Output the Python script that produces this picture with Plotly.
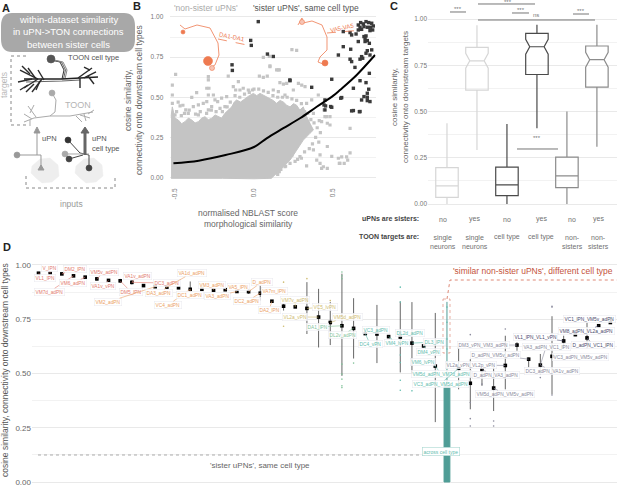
#! /usr/bin/env python3

import plotly.graph_objects as go

W, H = 617, 487
FONT = "Liberation Sans"
GREY_TXT = "#707070"
ORANGE = "#ee7a50"

# panel B: solid part of the grey cloud, outline
cloud_x = [-.525, -.517, -.50, -.479, -.458, -.437, -.415, -.394, -.373, -.352, -.331, -.31, -.289, -.268, -.247,
           -.226, -.205, -.184, -.163, -.141, -.125, -.11, -.085, -.057, -.03, -.004, .017, .038, .059, .08, .101,
           .122, .143, .165, .186, .207, .228, .25, .27, .29, .312, .333, .354, .376,
           .354, .312, .27, .228, .186, .143, .11, .0, -.2, -.525]
cloud_y = [.38, .44, .37, .358, .335, .348, .37, .358, .34, .348, .37, .379, .36, .369, .39,
           .379, .37, .40, .42, .44, .47, .483, .47, .493, .51, .524, .51, .524, .514, .50, .493,
           .48, .462, .48, .47, .45, .44, .46, .45, .42, .44, .38, .338, .296,
           .275, .233, .17, .108, .067, .026, -.005, -.008, -.005, -.005]

grey_x = [-.496, -.517, -.517, -.517, -.289, -.289, -.163, -.099, -.299, -.285, -.363, -.394, -.289, -.257,
          -.299, -.247, -.23, -.205, -.173, -.131, -.116, -.089, -.068, -.036, -.01, -.468, -.432, -.384,
          -.352, -.321, -.268, -.184, -.5, -.416, -.352, -.289, -.215,
          .101, .143, .16, .034, .059, .084, .164, .186, .207, .281, .302, .323, .249, .122, .154, .196,
          .333, .365, .376, .407, .428, .413, .46, .481, .464, .443, .481, .464, .492, .534, .544, .418,
          .397, .418, .439, .464, .333, .428, .276, .228, .196, .16, .376, .291,
          .555, .586, .608, .54, .571, .593, .608, .449, .24, .27, .059, .097, .101, .153,
          -.49, -.46, -.44, -.41, -.37, -.34, -.30, -.27, -.24, -.20, -.17, -.15, -.12, -.09, -.06, -.03, .0, .03,
          .06, .09, .12, .15, .18, .21, .24, .27, .30, .32, .34, .36, .38, .40, .42, .39, .41, .37, .35, .32, .30,
          .26, .24, .20, .17, .15, -.48, -.45]
grey_y = [.643, .576, .514, .462, .628, .608, .632, .597, .556, .556, .529, .499, .514, .514,
          .473, .483, .473, .494, .504, .566, .545, .545, .556, .545, .545, .446, .421, .442,
          .452, .462, .442, .442, .39, .4, .39, .421, .431,
          .69, .67, .67, .632, .624, .632, .591, .582, .586, .586, .576, .566, .545, .545, .535, .514,
          .462, .483, .4, .514, .348, .354, .379, .379, .338, .421, .327, .193, .131, .12, .088, .141,
          .108, .088, .067, .057, .072, .057, .113, .088, .067, .036, .172, .13,
          .129, .129, .154, .088, .088, .108, .306, .379, .796, .792, .748, .754, .696, .671,
          .41, .385, .40, .42, .395, .41, .40, .42, .41, .41, .44, .47, .51, .50, .52, .53, .55, .55,
          .54, .53, .51, .50, .50, .50, .49, .48, .46, .41, .40, .36, .34, .31, .28, .25, .22, .21, .18, .16, .12,
          .10, .14, .07, .05, .02, .47, .45]

dark_x = [.66, .675, .692, .709, .726, .745, .755, .671, .696, .717, .738, .751, .66, .681, .734, .703, .717,
          .73, .703, .696, .709, .565, .608, .618, .646, .66, .565, .612, .534, .745, .717, .709, .734, .681,
          .671, .688, .608, .618, .639, .73, .492, .365, .671, .629, .709, .726, .717, .717, .696, .681, .734,
          .717, .555, .449, .443, .485, .449, .629, .671, .228,
          .027, -.021, -.017, .085, .122, -.139, -.137, .227, .453, .492, .549, .618, .667]
dark_y = [.95, .965, .957, .971, .965, .961, .944, .936, .94, .936, .936, .919, .919, .923, .915, .867, .853,
          .836, .847, .878, .882, .909, .903, .888, .894, .847, .815, .799, .763, .795, .79, .774, .763, .753,
          .737, .743, .737, .722, .686, .649, .612, .562, .603, .556, .591, .55, .525, .5, .504, .483, .473,
          .479, .498, .483, .452, .442, .421, .417, .411, .603,
          .971, .854, .823, .769, .754, .702, .667, .608, .446, .4375, .494, .415, .41]

fit_x = [-.51, -.35, -.18, 0, .08, .186, .291, .397, .502, .544, .65, .766]
fit_y = [.088, .105, .14, .19, .244, .307, .369, .441, .51, .545, .639, .763]

# panel C: box statistics
c_pos = [1, 2, 3, 4, 5, 6]
c_q1 = [.036, .616, .045, .70, .088, .632]
c_median = [.0975, .774, .103, .85, .152, .78]
c_q3 = [.197, .847, .199, .922, .253, .854]
c_low = [0, .292, 0, .41, 0, .31]
c_high = [.437, .966, .433, .969, .50, .969]
c_notch = [.012, .04, .012, .04, .012, .04]
c_colors = ["#d6d6d6", "#d6d6d6", "#4a4a4a", "#4a4a4a", "#8c8c8c", "#8c8c8c"]
c_sisters = ["no", "yes", "no", "yes", "no", "yes"]
c_targets = ["single<br>neurons", "single<br>neurons", "cell type", "cell type", "non-<br>sisters", "non-<br>sisters"]

# panel D: one median per group, whiskers where they show
d_index = list(range(50))
d_median = [.962, .962, .959, .95, .944, .936, .929, .927, .92, .905, .90, .898, .895, .888, .888,
            .884, .886, .878, .877, .87, .833, .81, .807, .80, .76, .735, .72, .708, .684, .682,
            .67, .668, .64, .627, .534, None, .523, .455, .517, .433, .537, .631, .566, .539, .579,
            .65, .679, .664, .72, .735]
d_low = [.962, .962, .959, .95, .944, .928, .929, .918, .91, .905, .90, .898, .895, .879, .888,
         .884, .886, .878, .867, .836, .833, .79, .807, .682, .62, .631, .489, .569, .684, .548,
         .67, .505, .497, .627, .276, None, .427, .335, .443, .327, .427, .605, .528, .505, .404,
         .613, .672, .628, .72, .735]
d_high = [.962, .962, .959, .95, .944, .945, .929, .936, .93, .905, .90, .898, .895, .924, .888,
          .884, .886, .878, .89, .906, .833, .821, .807, .921, .89, .829, .96, .847, .684, .816,
          .67, .832, .829, .627, .779, None, .62, .566, .52, .528, .674, .644, .574, .59, .764,
          .674, .685, .736, .72, .735]

out_idx = [21, 21, 21, 23, 25, 26, 26, 26, 26, 26, 26, 26, 26, 27, 31, 31, 31, 31, 31, 31, 32, 35, 35, 35, 35,
           37, 37, 37, 39, 39, 40, 37, 44, 44, 44, 43, 43, 47, 38]
out_val = [.921, .752, .718, .937, .836, .968, .95, .937, .497, .474, .435, .443, .543, .548, .898, .829, .585,
           .551, .469, .423, .42, .806, .736, .659, .613, .366, .292, .258, .281, .258, .705, .679, .81, .806,
           .401, .497, .481, .62, .451]

across_q1, across_med, across_q3, across_low, across_high = 0, .12, .443, 0, .83

d_labels = ["V_lPN", "VL1_lPN", "DM2_lPN", "VM7d_adPN", "VM6_adPN", "VM5v_adPN", "VA1v_vPN", "VA1v_adPN", "DM5_lPN",
            "DC3_adPN", "VM2_adPN", "DA3_adPN", "VA1d_adPN", "VC4_adPN", "DC1_adPN", "VM3_adPN", "VA5_lPN",
            "VA3_adPN", "DC2_adPN", "D_adPN", "VA7m_lPN", "DA2_lPN", "VM7v_adPN", "VC5_lvPN", "VL2a_vPN",
            "VM5d_adPN", "DA1_lPN", "DL2v_adPN", "VC3_adPN", "DC4_vPN", "DL2d_adPN", "VM4_lvPN", "DL3_lPN",
            "DM4_vPN", "VM6_lvPN", "VM5d_adPN_VM7d_adPN", "VC3_adPN_VM5d_adPN", "DM3_vPN_VM3_adPN",
            "D_adPN_VM5v_adPN", "VL2a_vPN_VL2p_vPN", "D_adPN_VA3_adPN", "VM5d_adPN_VM5v_adPN", "VL1_lPN_VL1_vPN",
            "VA3_adPN_VC1_lPN", "VC3_adPN_VM5v_adPN", "DC3_adPN_VA1v_adPN", "VC1_lPN_VM5v_adPN",
            "VM8_adPN_VL2a_adPN", "D_adPN_VC1_lPN"]
d_targets = [1, 0, 2, 3, 4, 5, 6, 8, 7, 8, 10, 11, 11, 13, 13, 15, 16, 17, 19, 18, 19, 20, 22, 23, 24, 25, 26, 27,
             29, 28, 31, 30, 32, 33, 34, 34, 36, 41, 42, 40, 38, 39, 45, 43, 44, 43, 49, 48, 47]
# where each label box sits, in page pixels
label_px = [49, 45, 75, 49, 73, 104, 103, 137, 131, 167, 108, 159, 192, 168, 190, 212, 238, 217, 247, 262, 274, 269,
            295, 325, 295, 347, 317, 342, 376, 370, 410, 397, 434, 428, 423, 441, 440, 483, 495, 471, 496, 505, 535,
            546, 580, 552, 589, 586, 593]
label_py = [268, 278, 269, 292, 283, 272, 286, 276, 292, 283, 302, 293, 273, 305, 295, 285, 287, 296, 301, 282, 291,
            310, 300, 307, 317, 317, 327, 335, 330, 344, 333, 343, 342, 352, 362, 374, 384, 345, 355, 365, 375, 394,
            337, 347, 357, 371, 319, 331, 345]


def group_color(i):
    if i <= 8:
        return "#e27a6e"
    if i <= 20:
        return "#eba064"
    if i <= 25:
        return "#cfbb70"
    if i <= 27:
        return "#84c39b"
    if i <= 36:
        return "#62bcae"
    if i <= 44:
        return "#8a8a9c"
    return "#4a4a6c"


def fx(x):
    return x / W


def fy(y):
    return 1 - y / H


def pline(points, color, width=1, dash=None, fill=None, close=False, layer="above"):
    path = "M " + " L ".join(f"{fx(a):.5f},{fy(b):.5f}" for a, b in points)
    if close:
        path += " Z"
    line = dict(color=color, width=width)
    if dash:
        line["dash"] = dash
    s = dict(type="path", xref="paper", yref="paper", path=path, line=line, layer=layer)
    if fill:
        s["fillcolor"] = fill
    return s


def dot(x, y, r, color, outline=None):
    return dict(type="circle", xref="paper", yref="paper", x0=fx(x - r), x1=fx(x + r), y0=fy(y + r), y1=fy(y - r),
                fillcolor=color, line=dict(color=outline or color, width=.6))


def note(x, y, text, size=8, color=GREY_TXT, angle=0, anchor="center", **kw):
    return dict(x=fx(x), y=fy(y), xref="paper", yref="paper", text=text, showarrow=False,
                font=dict(size=size, color=color, family=FONT), textangle=angle,
                xanchor=anchor, yanchor="middle", **kw)


shapes = []
notes = []

# --- panel A, the drawing ---
shapes.append(dict(type="path", xref="paper", yref="paper", fillcolor="#a8a8a8", line=dict(width=0),
                   path="M %f,%f L %f,%f Q %f,%f %f,%f L %f,%f Q %f,%f %f,%f L %f,%f Q %f,%f %f,%f L %f,%f Q %f,%f %f,%f Z" % (
                       fx(12), fy(13), fx(124), fy(13), fx(135), fy(13), fx(135), fy(26), fx(135), fy(39), fx(135), fy(52),
                       fx(124), fy(52), fx(12), fy(52), fx(1), fy(52), fx(1), fy(39), fx(1), fy(26), fx(1), fy(13), fx(12), fy(13))))
notes += [note(6, 8, "<b>A</b>", 11, "#222222"),
          note(68, 20, "within-dataset similarity", 9.5, "white"),
          note(68, 32, "in uPN-&gt;TON connections", 9.5, "white"),
          note(68, 45, "between sister cells", 9.5, "white"),
          note(4, 85, "targets", 8.5, "#b8b8b8", angle=-90),
          note(93, 57, "TOON cell type", 7.5, "#555555"),
          note(78, 105, "TOON", 9, "#b4b4b4"),
          note(40, 138, "uPN", 7.5, "#555555", anchor="left"),
          note(90, 138, "uPN", 7.5, "#555555", anchor="left"),
          note(90, 148, "cell type", 7.5, "#555555", anchor="left"),
          note(71, 204, "inputs", 8.5, "#999999")]
shapes.append(pline([(26, 56), (11, 56), (11, 125), (26, 125)], "#888888", 1, "dot"))
shapes.append(pline([(26, 176), (26, 188), (115, 188), (115, 176)], "#888888", 1, "dot"))
# brains
for cx in (44, 88):
    shapes.append(pline([(cx - 12, 166), (cx - 4, 159), (cx + 6, 158), (cx + 14, 165), (cx + 15, 176), (cx + 8, 182),
                         (cx - 2, 183), (cx - 8, 178), (cx - 13, 173)], "#eeeeee", .5, fill="#eeeeee", close=True))
# dark TOON bundle
for d, c in ((0, "#333333"), (1.5, "#666666"), (3, "#888888")):
    shapes.append(pline([(51 + d, 60), (60 + d, 62), (64 + d, 70), (62 + d, 79)], c, 1))
shapes.append(pline([(24, 79), (62, 79), (98, 77)], "#222222", 1.6))
shapes.append(pline([(26, 82), (62, 81), (80, 80)], "#666666", 1.2))
for seg in ([(38, 79), (20, 70)], [(38, 79), (24, 88)], [(32, 79), (18, 82)], [(36, 79), (28, 68)], [(42, 79), (32, 92)],
            [(30, 74), (22, 66)], [(40, 81), (36, 90)], [(28, 85), (20, 90)], [(34, 84), (26, 92)], [(44, 80), (38, 70)],
            [(78, 78), (92, 68)], [(84, 78), (96, 72)], [(80, 78), (80, 88)], [(88, 76), (94, 84)], [(90, 70), (84, 67)]):
    shapes.append(pline(seg, "#2a2a2a", 1.4))
# grey TOON
shapes.append(pline([(52, 93), (56, 100), (55, 112), (50, 116), (34, 118), (24, 122)], "#aaaaaa", 1))
shapes.append(pline([(50, 116), (70, 116), (93, 112)], "#aaaaaa", 1))
for seg in ([(36, 117), (28, 106)], [(32, 119), (24, 114)], [(30, 113), (34, 105)], [(30, 120), (30, 126)],
            [(80, 115), (90, 118)], [(84, 114), (86, 121)], [(88, 114), (94, 110)], [(76, 116), (82, 122)]):
    shapes.append(pline(seg, "#aaaaaa", 1))
shapes.append(dot(52, 93, 3, "#aaaaaa"))
shapes.append(dot(51, 59, 4, "#555555"))
# uPN arrows
shapes.append(pline([(17, 155), (41, 155), (41, 168)], "#999999", 1))
shapes.append(pline([(37, 155), (37, 130)], "#999999", 1))
shapes.append(pline([(34, 133), (37, 127), (40, 133)], "#999999", 1, fill="#999999", close=True))
shapes.append(dot(17, 155, 3, "#999999"))
shapes.append(pline([(38, 170), (41, 165), (44, 170)], "#999999", 1, fill="#999999", close=True))
shapes.append(pline([(68, 140), (80, 153), (89, 155), (89, 168)], "#444444", 1))
shapes.append(pline([(65, 154), (89, 154)], "#aaaaaa", 1))
shapes.append(pline([(69, 159), (83, 155)], "#444444", 1))
shapes.append(pline([(85, 155), (85, 131)], "#666666", 3))
shapes.append(pline([(81, 133), (85, 127), (89, 133)], "#666666", 1, fill="#666666", close=True))
shapes += [dot(68, 140, 3, "#333333"), dot(65, 154, 3, "#aaaaaa"), dot(69, 159, 3, "#444444"), dot(89, 168, 3, "#444444")]

# --- panel B text and neurons ---
notes += [note(137, 6, "<b>B</b>", 11, "#222222"),
          note(206, 8, "'non-sister uPNs'", 8.5, "#aaaaaa"),
          note(306, 8, "'sister uPNs', same cell type", 8.5, "#555555"),
          note(128, 100, "cosine similarity,", 8.5, "#666666", angle=-90),
          note(139, 100, "connectivity onto downstream cell types", 8.5, "#666666", angle=-90),
          note(248, 213, "normalised NBLAST score", 8.5, "#666666"),
          note(248, 224, "morphological similarity", 8.5, "#666666"),
          note(232, 37, "DA1-DA1", 6, ORANGE, angle=12),
          note(342, 28, "VA5-VA5", 6, ORANGE, angle=-12)]
shapes.append(pline([(180, 25), (185, 29), (197, 25), (210, 28), (218, 43), (219, 55), (215, 65), (210, 68)], ORANGE, .8))
shapes.append(pline([(218, 39), (252, 46)], ORANGE, .8, "dash"))
shapes += [dot(183, 32, 2, ORANGE), dot(208, 61, 4.5, ORANGE), dot(212, 68, 2.5, "#f7c4b4", ORANGE)]
shapes.append(pline([(298, 25), (302, 18), (303, 23), (312, 21), (322, 25), (327, 37), (327, 50), (320, 57), (318, 62), (323, 64)], ORANGE, .8))
shapes.append(pline([(327, 33), (363, 30)], ORANGE, .8, "dash"))
shapes += [dot(302, 22, 2.5, "#f7c4b4", ORANGE), dot(325, 63, 3, ORANGE)]

# --- panel C text and brackets ---
notes += [note(394, 6, "<b>C</b>", 11, "#222222"),
          note(394, 97, "cosine similarity,", 8, "#666666", angle=-90),
          note(405, 97, "connectivity onto downstream targets", 8, "#666666", angle=-90),
          note(421, 218, "<b>uPNs are sisters:</b>", 7, "#444444", anchor="right"),
          note(421, 237, "<b>TOON targets are:</b>", 7, "#444444", anchor="right")]
row_x = [443, 475, 507, 541, 572, 598]
for a, s, t in zip(row_x, c_sisters, c_targets):
    notes.append(note(a, 219, s, 7, GREY_TXT))
    notes.append(dict(note(a, 237 + (5 if "<br>" in t else 0), t, 7, GREY_TXT)))
brackets = [(450, 466, 12, 458, 9, "***"), (478, 535, 4, 508, 2, "***"), (512, 529, 13, 521, 10, "***"),
            (478, 595, 20, 536, 15, "ns"), (573, 589, 14, 581, 11, "***"), (517, 558, 149, 537, 138, "***")]
for a, b, y, tx, ty, t in brackets:
    shapes.append(pline([(a, y), (b, y)], "#666666", .9))
    notes.append(note(tx, ty, t, 6, "#777777"))

# --- panel D text and dashes ---
notes += [note(7, 247, "<b>D</b>", 11, "#222222"),
          note(5, 370, "cosine similarity, connectivity onto downstream cell types", 8.5, "#555555", angle=-90),
          note(260, 465, "'sister uPNs', same cell type", 8, "#666666"),
          note(533, 271, "'similar non-sister uPNs', different cell type", 8.5, "#c4533c"),
          note(441, 451, "across cell type", 5, "#62bcae", bgcolor="white", bordercolor="#a8d8d0", borderwidth=.6, borderpad=1)]
shapes.append(pline([(38, 455), (433, 455)], "#aaaaaa", 1, "dot"))
shapes.append(pline([(443, 299), (450, 299), (450, 353), (443, 353), (443, 299)], "#d97a66", .6, "dot"))
shapes.append(pline([(447, 299), (450, 280), (617, 280)], "#d97a66", .9, "dot"))


fig = go.Figure()

# B
fig.add_trace(go.Scatter(x=cloud_x, y=cloud_y, mode="lines", fill="toself", fillcolor="#c4c4c4",
                         line=dict(color="#c4c4c4", width=1), xaxis="x", yaxis="y"))
fig.add_trace(go.Scatter(x=grey_x, y=grey_y, mode="markers", marker=dict(symbol="square", size=3.2, color="#c4c4c4"),
                         xaxis="x", yaxis="y"))
fig.add_trace(go.Scatter(x=dark_x, y=dark_y, mode="markers", marker=dict(symbol="square", size=3.4, color="#3a3a3a"),
                         xaxis="x", yaxis="y", cliponaxis=False))
fig.add_trace(go.Scatter(x=fit_x, y=fit_y, mode="lines", line=dict(color="black", width=2, shape="spline"),
                         xaxis="x", yaxis="y", cliponaxis=False))

# C
for i in range(6):
    fig.add_trace(go.Box(x=[c_pos[i]], q1=[c_q1[i]], median=[c_median[i]], q3=[c_q3[i]], lowerfence=[c_low[i]],
                         upperfence=[c_high[i]], notched=c_notch[i] > .02, notchspan=[c_notch[i]], notchwidth=.18,
                         width=.75, whiskerwidth=0, fillcolor="rgba(255,255,255,0)",
                         line=dict(color=c_colors[i], width=1.2), boxpoints=False, xaxis="x2", yaxis="y2"))

# D
fig.add_trace(go.Box(x=[35], q1=[across_q1], median=[across_med], q3=[across_q3], lowerfence=[across_low],
                     upperfence=[across_high], width=.5, whiskerwidth=0, fillcolor="#4f9d96",
                     line=dict(color="#4f9d96", width=1), boxpoints=False, xaxis="x3", yaxis="y3"))
err_up = [None if m is None else h - m for m, h in zip(d_median, d_high)]
err_down = [None if m is None else m - l for m, l in zip(d_median, d_low)]
fig.add_trace(go.Scatter(x=d_index, y=d_median, mode="markers", marker=dict(symbol="square", size=3.6, color="black"),
                         error_y=dict(type="data", array=err_up, arrayminus=err_down, color="#666666", thickness=1, width=0),
                         xaxis="x3", yaxis="y3"))
fig.add_trace(go.Scatter(x=out_idx, y=out_val, mode="markers",
                         marker=dict(size=1.6, color=[group_color(i) for i in out_idx]), xaxis="x3", yaxis="y3"))

# D labels sit on their point, the connector is the annotation arrow
D_LEFT, D_UNIT, D_ZERO, D_SCALE = 38.5, 11.67, 482, 217
for name, t, lx, ly in zip(d_labels, d_targets, label_px, label_py):
    col = group_color(t)
    ax = lx - (D_LEFT + D_UNIT * t)
    ay = ly - (D_ZERO - D_SCALE * d_median[t])
    notes.append(dict(x=t, y=d_median[t], xref="x3", yref="y3", text=name, showarrow=True, arrowhead=0,
                      arrowwidth=.6, arrowcolor=col, ax=ax, ay=ay, axref="pixel", ayref="pixel",
                      font=dict(size=4.8, color=col, family=FONT), bgcolor="rgba(255,255,255,0.85)",
                      bordercolor="#e8e8ee", borderwidth=.5, borderpad=1, standoff=0))

grid = dict(showgrid=True, gridcolor="#e9e9e9", gridwidth=.8, zeroline=False, showline=False, ticks="",
            tickvals=[0, .25, .5, .75, 1], ticktext=["0.00", "0.25", "0.50", "0.75", "1.00"],
            minor=dict(tickvals=[.125, .375, .625, .875], showgrid=True, gridcolor="#f2f2f2", gridwidth=.6))

fig.update_layout(
    width=W, height=H, autosize=False, showlegend=False, paper_bgcolor="white", plot_bgcolor="white",
    margin=dict(l=0, r=0, t=0, b=0), font=dict(family=FONT, color=GREY_TXT),
    shapes=shapes, annotations=notes,
    xaxis=dict(domain=[fx(170.26), fx(375.66)], range=[-.53, .77], anchor="y", tickvals=[-.5, 0, .5],
               ticktext=["-0.5", "0.0", "0.5"], tickangle=-90, tickfont=dict(size=6.5, color="#777777"),
               ticklabelstandoff=5, showgrid=False, zeroline=False, ticks=""),
    yaxis=dict(domain=[fy(181), fy(12)], range=[-.0218, 1.031], anchor="x", ticklabelstandoff=6,
               tickfont=dict(size=6.5, color="#777777"), **grid),
    xaxis2=dict(domain=[fx(428), 1], range=[.367, 6.67], anchor="y2", visible=False),
    yaxis2=dict(domain=[fy(208), fy(15)], range=[-.0216, 1.0216], anchor="x2", tickfont=dict(size=6.5, color="#777777"), **grid),
    xaxis3=dict(domain=[fx(32), 1], range=[-.557, 49.57], anchor="y3", visible=False),
    yaxis3=dict(domain=[fy(486), fy(260)], range=[-.0184, 1.023], anchor="x3", tickfont=dict(size=8, color="#666666"), **grid),
)

fig.write_html("out.html", config={"displayModeBar": False}, post_script="document.body.style.margin='0';")
